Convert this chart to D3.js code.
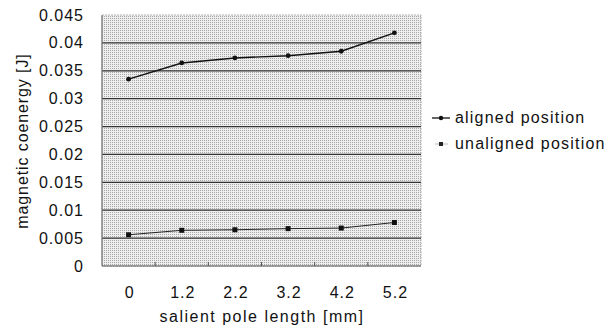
<!DOCTYPE html>
<html>
<head>
<meta charset="utf-8">
<script src="https://cdn.jsdelivr.net/npm/d3@7"></script>
<style>
  body { margin: 0; background: #fff; }
  svg text { font-family: "Liberation Sans", Arial, sans-serif; fill: #111; }
</style>
</head>
<body>
<svg id="chart" width="612" height="329"></svg>
<script>
// data
var lengths = ["0", "1.2", "2.2", "3.2", "4.2", "5.2"];
var aligned = [0.0335, 0.0364, 0.0373, 0.0377, 0.0385, 0.0418];
var unaligned = [0.0056, 0.0064, 0.0065, 0.0067, 0.0068, 0.0078];
var yTicks = [0, 0.005, 0.01, 0.015, 0.02, 0.025, 0.03, 0.035, 0.04, 0.045];
var seriesNames = ["aligned position", "unaligned position"];

var svg = d3.select("#chart");
// plot box (note: "top" is taken by window.top)
var plotL = 102, plotR = 421, plotT = 15, plotB = 266;

var x = d3.scaleBand().domain(lengths).range([plotL, plotR]);
var y = d3.scaleLinear().domain([0, 0.045]).range([plotB, plotT]);

// halftone-ish background
var defs = svg.append("defs");
var pat = defs.append("pattern")
  .attr("id", "dots")
  .attr("width", 2).attr("height", 2)
  .attr("patternUnits", "userSpaceOnUse");
pat.append("rect").attr("width", 2).attr("height", 2).attr("fill", "#eeeeee");
pat.append("rect").attr("width", 1).attr("height", 1).attr("fill", "#a8a8a8");

svg.append("rect")
  .attr("x", plotL).attr("y", plotT)
  .attr("width", plotR - plotL).attr("height", plotB - plotT)
  .attr("fill", "url(#dots)")
  .attr("stroke", "#b5b5b5")
  .attr("stroke-dasharray", "2,1");

// gridlines
svg.append("g")
  .selectAll("line")
  .data(yTicks.filter(function (d) { return d > 0 && d < 0.045; }))
  .enter().append("line")
  .attr("x1", plotL).attr("x2", plotR)
  .attr("y1", function (d) { return y(d); })
  .attr("y2", function (d) { return y(d); })
  .style("stroke", "#333")
  .style("stroke-width", 1.3);

// axis lines
svg.append("line")
  .attr("x1", plotL).attr("x2", plotL).attr("y1", plotT).attr("y2", plotB)
  .style("stroke", "#777").style("stroke-width", 1.2);
svg.append("line")
  .attr("x1", plotL).attr("x2", plotR).attr("y1", plotB).attr("y2", plotB)
  .style("stroke", "#555").style("stroke-width", 1.2);

// small inward ticks on the bottom axis
svg.append("g")
  .selectAll("line")
  .data(lengths.slice(1))
  .enter().append("line")
  .attr("x1", function (d) { return x(d); })
  .attr("x2", function (d) { return x(d); })
  .attr("y1", plotB).attr("y2", plotB - 4)
  .style("stroke", "#555");

// y tick labels
svg.append("g")
  .selectAll("text")
  .data(yTicks)
  .enter().append("text")
  .attr("x", 84)
  .attr("y", function (d) { return y(d) + 5.5; })
  .attr("text-anchor", "end")
  .style("font-size", "16px")
  .style("letter-spacing", "1px")
  .text(function (d) { return d === 0 ? "0" : String(+d.toFixed(3)); });

// x tick labels
svg.append("g")
  .selectAll("text")
  .data(lengths)
  .enter().append("text")
  .attr("x", function (d) { return x(d) + x.bandwidth() / 2 + 1; })
  .attr("y", 298)
  .attr("text-anchor", "middle")
  .style("font-size", "16px")
  .style("letter-spacing", "1px")
  .text(function (d) { return d; });

// axis titles
svg.append("text")
  .attr("x", 262).attr("y", 322)
  .attr("text-anchor", "middle")
  .style("font-size", "16px")
  .style("letter-spacing", "1.5px")
  .text("salient pole length [mm]");

svg.append("text")
  .attr("transform", "translate(28,141) rotate(-90)")
  .attr("text-anchor", "middle")
  .style("font-size", "16px")
  .style("letter-spacing", "0.9px")
  .text("magnetic coenergy [J]");

var cx = function (d, i) { return x(lengths[i]) + x.bandwidth() / 2; };

var line = d3.line()
  .x(function (d, i) { return cx(d, i); })
  .y(function (d) { return y(d); });

// aligned series
svg.append("path")
  .datum(aligned)
  .attr("d", line)
  .attr("fill", "none")
  .style("stroke", "#111")
  .style("stroke-width", 1.4);

svg.append("g")
  .selectAll("circle")
  .data(aligned)
  .enter().append("circle")
  .attr("cx", cx)
  .attr("cy", function (d) { return y(d); })
  .attr("r", 2.4)
  .attr("fill", "#111");

// unaligned series
svg.append("path")
  .datum(unaligned)
  .attr("d", line)
  .attr("fill", "none")
  .style("stroke", "#222")
  .style("stroke-width", 1);

svg.append("g")
  .selectAll("rect")
  .data(unaligned)
  .enter().append("rect")
  .attr("x", function (d, i) { return cx(d, i) - 2.5; })
  .attr("y", function (d) { return y(d) - 2.5; })
  .attr("width", 5).attr("height", 5)
  .attr("fill", "#111");

// legend
var legend = svg.append("g");
legend.append("line")
  .attr("x1", 432).attr("x2", 450).attr("y1", 118).attr("y2", 118)
  .style("stroke", "#111").style("stroke-width", 1.3);
legend.append("circle")
  .attr("cx", 441).attr("cy", 118).attr("r", 2.2).attr("fill", "#111");
legend.append("line")
  .attr("x1", 435).attr("x2", 448).attr("y1", 144).attr("y2", 144)
  .style("stroke", "#bbb").style("stroke-width", 1);
legend.append("rect")
  .attr("x", 439).attr("y", 142).attr("width", 4).attr("height", 4)
  .attr("fill", "#222");

legend.selectAll("text")
  .data(seriesNames)
  .enter().append("text")
  .attr("x", 455)
  .attr("y", function (d, i) { return 123 + i * 26; })
  .style("font-size", "16px")
  .style("letter-spacing", "1.2px")
  .text(function (d) { return d; });
</script>
</body>
</html>
